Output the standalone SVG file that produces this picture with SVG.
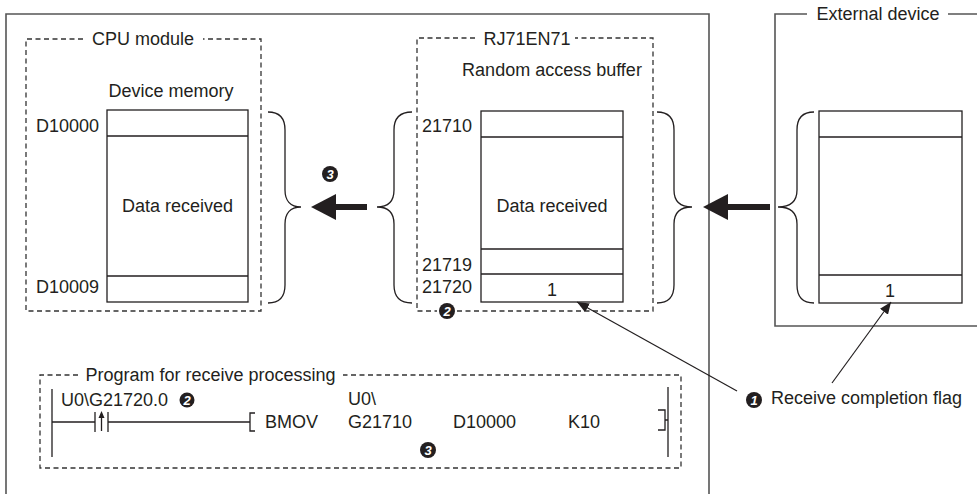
<svg xmlns="http://www.w3.org/2000/svg" width="977" height="494" viewBox="0 0 977 494">
<defs>
<style>
.t{font-family:"Liberation Sans",Arial,sans-serif;font-size:18px;fill:#231f20}
.m{text-anchor:middle}
.e{text-anchor:end}
.frame{fill:none;stroke:#555;stroke-width:1.6}
.dash{fill:none;stroke:#333;stroke-width:1.3;stroke-dasharray:5 3.5}
.box{fill:#fff;stroke:#231f20;stroke-width:1.3}
.ln{fill:none;stroke:#231f20;stroke-width:1.3}
.brace{fill:none;stroke:#231f20;stroke-width:1.3}
.big{fill:none;stroke:#231f20;stroke-width:6}
.thin{fill:none;stroke:#231f20;stroke-width:1.2}
.bc{fill:#231f20}
.bn{font-family:"Liberation Sans",Arial,sans-serif;font-size:13px;font-weight:bold;font-style:italic;fill:#fff;text-anchor:middle}
</style>
<marker id="bigHead" viewBox="0 0 25 26" refX="0" refY="13" markerWidth="25" markerHeight="26" markerUnits="userSpaceOnUse" orient="auto"><path d="M0,0 L25,13 L0,26 z" fill="#231f20"/></marker>
<marker id="smallHead" viewBox="0 0 12 10" refX="12" refY="5" markerWidth="12" markerHeight="10" markerUnits="userSpaceOnUse" orient="auto"><path d="M0,0 L12,5 L0,10 z" fill="#231f20"/></marker>
</defs>
<rect width="977" height="494" fill="#fff"/>

<g id="plc-station">
<path class="frame" d="M6,494 V14 H709 V494"/>
</g>

<g id="external-frame">
<path class="frame" d="M807,14 H775 V326 H977 M948,14 H977"/>
<text class="t m" x="878" y="20">External device</text>
</g>

<g id="cpu-module">
<path class="dash" d="M83,39 H26 V311 H261 V39 H203"/>
<text class="t m" x="143" y="45">CPU module</text>
<text class="t m" x="171" y="97">Device memory</text>
<rect class="box" x="107" y="110" width="141" height="192"/>
<path class="ln" d="M107,136 H248 M107,276 H248"/>
<text class="t e" x="99" y="132">D10000</text>
<text class="t e" x="99" y="293">D10009</text>
<text class="t m" x="177.5" y="212">Data received</text>
<path class="brace" d="M268,112 C280,112 285,118 285,130 V190 C285,200 290,207 301,207 C290,207 285,214 285,224 V285 C285,297 280,303 268,303"/>
</g>

<g id="rj71en71">
<path class="dash" d="M475,38 H417 V311 H437 M457,311 H653 V38 H575"/>
<text class="t m" x="527" y="45">RJ71EN71</text>
<text class="t m" x="552" y="76">Random access buffer</text>
<rect class="box" x="481" y="111" width="142" height="191"/>
<path class="ln" d="M481,137 H623 M481,249 H623 M481,274 H623"/>
<text class="t" x="422" y="132">21710</text>
<text class="t" x="422" y="271">21719</text>
<text class="t" x="422" y="293">21720</text>
<text class="t m" x="552" y="212">Data received</text>
<text class="t m" x="552" y="296">1</text>
<path class="brace" d="M412,112 C400,112 394,118 394,130 V190 C394,200 389,207 377,207 C389,207 394,214 394,224 V285 C394,297 400,303 412,303"/>
<path class="brace" d="M657,112 C669,112 674,118 674,130 V190 C674,200 679,207 692,207 C679,207 674,214 674,224 V285 C674,297 669,303 657,303"/>
<circle class="bc" cx="447" cy="311" r="8"/>
<text class="bn" x="447" y="315.5">2</text>
</g>

<g id="external-device">
<rect class="box" x="819" y="111" width="143" height="192"/>
<path class="ln" d="M819,137 H962 M819,275 H962"/>
<text class="t m" x="890" y="297">1</text>
<path class="brace" d="M814,112 C802,112 797,118 797,130 V190 C797,200 792,207 778,207 C792,207 797,214 797,224 V285 C797,297 802,303 814,303"/>
</g>

<g id="connectors">
<line class="big" x1="367" y1="207" x2="336" y2="207" marker-end="url(#bigHead)"/>
<line class="big" x1="770" y1="207" x2="728" y2="207" marker-end="url(#bigHead)"/>
<line class="thin" x1="737" y1="391" x2="577" y2="302" marker-end="url(#smallHead)"/>
<line class="thin" x1="832" y1="383" x2="891" y2="302" marker-end="url(#smallHead)"/>
</g>

<g id="step3-marker">
<circle class="bc" cx="330" cy="174" r="8"/>
<text class="bn" x="330" y="178.5">3</text>
</g>

<g id="receive-flag-label">
<circle class="bc" cx="754" cy="400" r="8"/>
<text class="bn" x="754" y="404.5">1</text>
<text class="t" x="771" y="404">Receive completion flag</text>
</g>

<g id="program">
<path class="dash" d="M78,375 H40 V468 H681 V375 H343"/>
<text class="t m" x="210.5" y="381">Program for receive processing</text>
<path class="ln" d="M52,389 V457 M52,422 H95 M95,412 V432 M108,412 V432 M108,422 H250 M255,413 H250 V431 H255 M658,410 H665 V430 H658 M665,420 H668 M668,387 V457"/>
<path class="ln" d="M101.5,431 V416"/>
<path class="bc" d="M101.5,411 L98.5,418 L104.5,418 z"/>
<text class="t" x="61" y="406">U0\G21720.0</text>
<circle class="bc" cx="187" cy="400" r="7.5"/>
<text class="bn" x="187" y="404.5">2</text>
<text class="t" x="265" y="428">BMOV</text>
<text class="t" x="348" y="405">U0\</text>
<text class="t" x="348" y="428">G21710</text>
<text class="t" x="453" y="428">D10000</text>
<text class="t" x="568" y="428">K10</text>
<circle class="bc" cx="428" cy="450" r="8"/>
<text class="bn" x="428" y="454.5">3</text>
</g>
</svg>
